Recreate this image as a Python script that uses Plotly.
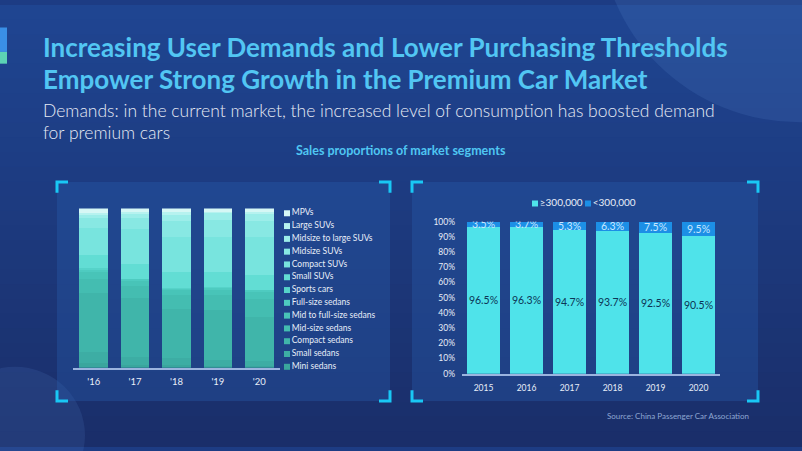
import plotly.graph_objects as go

W, H = 802, 451

# ---------------- data ----------------
years_left = ["'16", "'17", "'18", "'19", "'20"]
segments = ["Mini sedans", "Small sedans", "Compact sedans", "Mid-size sedans",
            "Mid to full-size sedans", "Full-size sedans", "Sports cars",
            "Small SUVs", "Compact SUVs", "Midsize SUVs", "Midsize to large SUVs",
            "Large SUVs", "MPVs"]
mini_sedans = [3, 2, 1.5, 1, 1]
small_sedans = [7, 4.5, 4.5, 4, 3]
compact_sedans = [37, 37, 31, 31, 28]
midsize_sedans = [9, 8, 8.5, 9.5, 11]
mid_full_sedans = [4, 3, 3, 3.5, 4.5]
fullsize_sedans = [1.5, 1, 1, 1, 1]
sports_cars = [1, 0.5, 0.5, 0.5, 0.5]
small_suvs = [8.5, 9, 10, 9.5, 9]
compact_suvs = [17, 22, 22, 22, 24]
midsize_suvs = [6, 7, 10, 11, 10]
midsize_large_suvs = [2, 2.5, 4, 4, 4.5]
large_suvs = [1, 1, 1.5, 1, 1]
mpvs = [3, 2.5, 2.5, 2, 2.5]
segment_values = [mini_sedans, small_sedans, compact_sedans, midsize_sedans,
                  mid_full_sedans, fullsize_sedans, sports_cars, small_suvs,
                  compact_suvs, midsize_suvs, midsize_large_suvs, large_suvs, mpvs]

years_right = ["2015", "2016", "2017", "2018", "2019", "2020"]
price_groups = ["≥300,000", "<300,000"]
share_ge_300k = [96.5, 96.3, 94.7, 93.7, 92.5, 90.5]
share_lt_300k = [3.5, 3.7, 5.3, 6.3, 7.5, 9.5]
y_ticks = list(range(0, 101, 10))
y_tick_labels = [f"{v}%" for v in y_ticks]

# ---------------- styling ----------------
seg_colors = ["#3aa69d", "#3dada4", "#40b5aa", "#44bdb1", "#48c4b8", "#4ecbc0",
              "#56d3c9", "#62ddd4", "#78e4de", "#88e8e3", "#9cede9", "#b6f2ef", "#d6f7f5"]
c_ge = "#4fe3ea"
c_lt = "#1c8fe6"
txt = "#e8eef8"
FONT = "Lato"

def fx(px):
    return px / W

def fy(py):
    return 1 - py / H

fig = go.Figure()

# left stacked bars
for name, vals, col in zip(segments, segment_values, seg_colors):
    fig.add_trace(go.Bar(x=years_left, y=vals, name=name, marker_color=col,
                         marker_line_width=0, width=0.69, xaxis="x", yaxis="y",
                         showlegend=False, hoverinfo="skip"))

# left custom legend
fig.add_trace(go.Scatter(
    x=[0] * len(segments), y=list(range(len(segments))), mode="markers+text",
    text=segments, textposition="middle right",
    textfont=dict(family=FONT, size=8.5, color=txt),
    marker=dict(symbol="square", size=6, color=seg_colors),
    xaxis="x3", yaxis="y3", showlegend=False, cliponaxis=False, hoverinfo="skip"))

# right stacked bars
fig.add_trace(go.Bar(x=years_right, y=share_ge_300k, name=price_groups[0],
                     marker_color=c_ge, marker_line_width=0, width=0.77,
                     text=[f"{v}%" for v in share_ge_300k], textposition="inside",
                     insidetextanchor="middle", textangle=0,
                     textfont=dict(family=FONT, size=10.5, color="#0c3556"),
                     xaxis="x2", yaxis="y2", showlegend=False, hoverinfo="skip"))
fig.add_trace(go.Bar(x=years_right, y=share_lt_300k, name=price_groups[1],
                     marker_color=c_lt, marker_line_width=0, width=0.77,
                     text=[f"{v}%" for v in share_lt_300k], textposition="inside",
                     insidetextanchor="middle", textangle=0,
                     textfont=dict(family=FONT, size=10.5, color="#c8e6ff"),
                     xaxis="x2", yaxis="y2", showlegend=False, hoverinfo="skip"))

# right custom legend
fig.add_trace(go.Scatter(
    x=[0, 1], y=[0.5, 0.5], mode="markers+text", text=price_groups,
    textposition="middle right", textfont=dict(family=FONT, size=10, color=txt),
    marker=dict(symbol="square", size=6, color=[c_ge, c_lt]),
    xaxis="x4", yaxis="y4", showlegend=False, cliponaxis=False, hoverinfo="skip"))

# ---------------- shapes ----------------
shapes = []
top = (31, 69, 145)
bot = (26, 46, 106)
n = 30
for i in range(n):
    t = i / (n - 1)
    c = tuple(int(round(top[k] + (bot[k] - top[k]) * t)) for k in range(3))
    shapes.append(dict(type="rect", xref="paper", yref="paper", x0=0, x1=1,
                       y0=fy(H * (i + 1) / n) - 0.002, y1=fy(H * i / n),
                       fillcolor="rgb(%d,%d,%d)" % c, line_width=0, layer="below"))
shapes.append(dict(type="circle", xref="paper", yref="paper", x0=fx(600), x1=fx(1000),
                   y0=fy(120), y1=fy(-280), fillcolor="rgba(110,160,230,0.13)",
                   line_width=0, layer="below"))
shapes.append(dict(type="circle", xref="paper", yref="paper", x0=fx(-55), x1=fx(85),
                   y0=fy(510), y1=fy(370), fillcolor="rgba(110,160,230,0.12)",
                   line_width=0, layer="below"))
shapes.append(dict(type="rect", xref="paper", yref="paper", x0=0, x1=fx(7),
                   y0=fy(48), y1=fy(23), fillcolor="#3a8fe6", line_width=0, layer="below"))
shapes.append(dict(type="rect", xref="paper", yref="paper", x0=0, x1=fx(7),
                   y0=fy(60), y1=fy(48), fillcolor="#5cd3b5", line_width=0, layer="below"))
for (x0, y0, x1, y1) in [(57, 181, 390, 405), (412, 181, 758, 405)]:
    shapes.append(dict(type="rect", xref="paper", yref="paper", x0=fx(x0), x1=fx(x1),
                       y0=fy(y1), y1=fy(y0), fillcolor="rgba(40,95,175,0.35)",
                       line_width=0, layer="below"))
    a = 11
    corners = [
        (x0, y0 + a, x0, y0, x0 + a, y0),
        (x1 - a, y0, x1, y0, x1, y0 + a),
        (x0, y1 - a, x0, y1, x0 + a, y1),
        (x1 - a, y1, x1, y1, x1, y1 - a),
    ]
    for (ax, ay, bx, by, cx, cy) in corners:
        path = "M %f %f L %f %f L %f %f" % (fx(ax), fy(ay), fx(bx), fy(by), fx(cx), fy(cy))
        shapes.append(dict(type="path", xref="paper", yref="paper", path=path,
                           line=dict(color="#19c8f5", width=3), layer="above"))

# ---------------- annotations ----------------
ann = []
title_col = "#52c6f3"
ann.append(dict(text="Increasing User Demands and Lower Purchasing Thresholds",
                x=fx(41), y=fy(43), xref="paper", yref="paper", xanchor="left", yanchor="middle",
                showarrow=False, font=dict(family=FONT, size=26, color=title_col, weight="bold")))
ann.append(dict(text="Empower Strong Growth in the Premium Car Market",
                x=fx(41), y=fy(76), xref="paper", yref="paper", xanchor="left", yanchor="middle",
                showarrow=False, font=dict(family=FONT, size=26, color=title_col, weight="bold")))
ann.append(dict(text="Demands: in the current market, the increased level of consumption has boosted demand",
                x=fx(41), y=fy(108), xref="paper", yref="paper", xanchor="left", yanchor="middle",
                showarrow=False, font=dict(family=FONT, size=17.5, color="#e6ebf5", weight=300)))
ann.append(dict(text="for premium cars",
                x=fx(41), y=fy(130), xref="paper", yref="paper", xanchor="left", yanchor="middle",
                showarrow=False, font=dict(family=FONT, size=17.5, color="#e6ebf5", weight=300)))
ann.append(dict(text="Sales proportions of market segments",
                x=fx(401), y=fy(149), xref="paper", yref="paper", xanchor="center", yanchor="middle",
                showarrow=False, font=dict(family=FONT, size=12.5, color="#4fc6f2", weight="bold")))
ann.append(dict(text="Source: China Passenger Car Association",
                x=fx(751), y=fy(420), xref="paper", yref="paper", xanchor="right", yanchor="middle",
                showarrow=False, font=dict(family=FONT, size=8, color="#8ea6d2")))

axis_line = "#9bb4df"
fig.update_layout(
    width=W, height=H, margin=dict(l=0, r=0, t=0, b=0),
    paper_bgcolor="#1d3c84", plot_bgcolor="rgba(0,0,0,0)",
    barmode="stack", showlegend=False,
    uniformtext=dict(minsize=10.5, mode="show"),
    font=dict(family=FONT, color=txt),
    shapes=shapes, annotations=ann,
    xaxis=dict(domain=[fx(73), fx(280)], anchor="y", showline=True, linecolor=axis_line,
               linewidth=2, showgrid=False, zeroline=False, ticks="", ticklabelstandoff=4,
               tickfont=dict(family=FONT, size=9.5, color=txt), fixedrange=True),
    yaxis=dict(domain=[fy(371), fy(208)], anchor="x", range=[0, 100], visible=False,
               fixedrange=True),
    xaxis2=dict(domain=[fx(462), fx(720)], anchor="y2", showline=True, linecolor=axis_line,
                linewidth=2, showgrid=False, zeroline=False, ticks="", ticklabelstandoff=5,
                tickfont=dict(family=FONT, size=8.5, color=txt), fixedrange=True),
    yaxis2=dict(domain=[fy(377), fy(221.5)], anchor="x2", range=[0, 100],
                tickmode="array", tickvals=y_ticks, ticktext=y_tick_labels,
                showgrid=False, zeroline=False, showline=False, ticks="", ticklabelstandoff=6,
                tickfont=dict(family=FONT, size=8.5, color=txt), fixedrange=True),
    xaxis3=dict(domain=[fx(287), fx(300)], anchor="y3", range=[0, 1], visible=False),
    yaxis3=dict(domain=[fy(370), fy(213)], anchor="x3", range=[0, 12], visible=False),
    xaxis4=dict(domain=[fx(535), fx(588)], anchor="y4", range=[0, 1], visible=False),
    yaxis4=dict(domain=[fy(206), fy(200)], anchor="x4", range=[0, 1], visible=False),
)

fig.write_html("out.html", config={"displayModeBar": False, "staticPlot": True},
               post_script="document.body.style.margin='0';document.body.style.overflow='hidden';")
